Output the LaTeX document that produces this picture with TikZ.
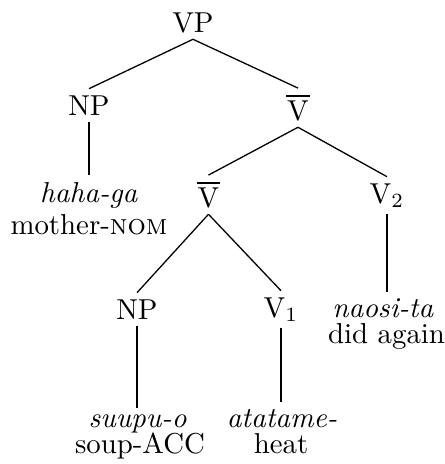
\documentclass[tikz,border=0pt]{standalone}
\newcommand{\vbarsym}{\vbox{\hrule height 0.95pt width 8pt \kern 1pt \hbox to 8pt{\hss V\hss}}}
\begin{document}
\begin{tikzpicture}[x=0.347pt,y=-0.347pt,
  lbl/.style={anchor=base,inner xsep=0pt,inner ysep=0pt,outer xsep=0pt,outer ysep=2.3pt,font=\fontsize{10pt}{12pt}\selectfont},
  edge/.style={line width=0.45pt}]
\useasboundingbox (0,0) rectangle (445,464);
\node[lbl] (vp) at (193,32) {VP};
\node[lbl] (np1) at (89,115) {NP};
\node[lbl] (vb1) at (298,120) {\vbarsym};
\node[lbl] (w1) at (89,202) {\textit{haha-ga}};
\node[lbl] (g1) at (89,234) {mother-\textsc{nom}};
\node[lbl] (vb2) at (208.5,207) {\vbarsym};
\node[lbl] (v2) at (387,203) {V$_2$};
\node[lbl] (np2) at (137,319) {NP};
\node[lbl] (v1) at (281,317) {V$_1$};
\node[lbl] (w3) at (383,317) {\textit{naosi-ta}};
\node[lbl] (g3) at (386.5,343) {did again};
\node[lbl] (w2) at (137.5,427) {\textit{suupu-o}};
\node[lbl] (g2) at (140,453) {soup-ACC};
\node[lbl] (w4) at (282,427) {\textit{atatame-}};
\node[lbl] (g4) at (281,453) {heat};
\draw[edge] (vp.south) -- (np1.north);
\draw[edge] (vp.south) -- (vb1.north);
\draw[edge] (np1.south) -- (np1.south |- w1.north);
\draw[edge] (vb1.south) -- (vb2.north);
\draw[edge] (vb1.south) -- (v2.north);
\draw[edge] (vb2.south) -- (np2.north);
\draw[edge] (vb2.south) -- (v1.north);
\draw[edge] (v2.south) -- (v2.south |- w3.north);
\draw[edge] (np2.south) -- (np2.south |- w2.north);
\draw[edge] (v1.south) -- (v1.south |- w4.north);
\end{tikzpicture}
\end{document}
